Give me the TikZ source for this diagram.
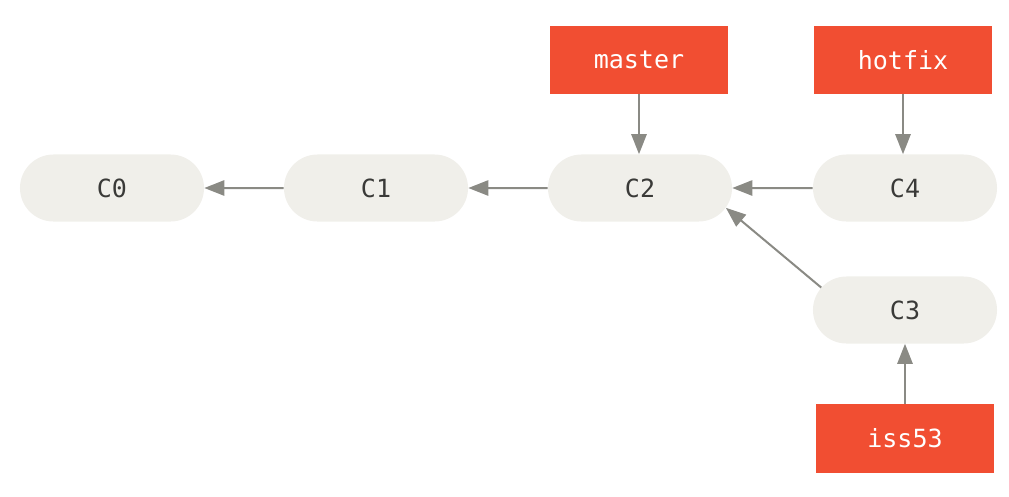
\documentclass[tikz,border=0pt]{standalone}
\usepackage{fontspec}
\setmonofont{DejaVu Sans Mono}
\usepackage{xcolor}
\usetikzlibrary{shapes.misc,arrows.meta,positioning}
\definecolor{gitorange}{RGB}{241,78,50}
\definecolor{commitgrey}{RGB}{240,239,234}
\definecolor{arrowgrey}{RGB}{138,138,132}
\definecolor{textdark}{RGB}{58,58,56}

\begin{document}
\begin{tikzpicture}[
    x=0.025cm, y=-0.025cm,
    commit/.style={rounded rectangle, fill=commitgrey, minimum width=4.6cm, minimum height=1.675cm,
        inner sep=0pt, text=textdark, font=\ttfamily\fontsize{17.8}{20}\selectfont},
    branch/.style={rectangle, fill=gitorange, minimum width=4.45cm, minimum height=1.7cm,
        inner sep=0pt, text=white, font=\ttfamily\fontsize{17.8}{20}\selectfont},
    parent/.style={-{Triangle[length=0.5cm, width=0.38cm]}, draw=arrowgrey, line width=0.05cm},
]
    \useasboundingbox (0,0) rectangle (1009,496);
    % commits
    \node[commit] (c0) at (112,188) {C0};
    \node[commit] (c1) at (376,188) {C1};
    \node[commit] (c2) at (640,188) {C2};
    \node[commit] (c4) at (905,188) {C4};
    \node[commit] (c3) at (905,310) {C3};
    % branches
    \node[branch] (master) at (639,60) {master};
    \node[branch] (hotfix) at (903,60) {hotfix};
    \node[branch] (iss53) at (905,438.5) {iss53};
    % history
    \draw[parent] (c1) -- (c0);
    \draw[parent] (c2) -- (c1);
    \draw[parent] (c4) -- (c2);
    \draw[parent] (c3.165) -- (c2.-13);
    \draw[parent] (master) -- (master |- c2.north);
    \draw[parent] (hotfix) -- (hotfix |- c4.north);
    \draw[parent] (iss53) -- (iss53 |- c3.south);
\end{tikzpicture}
\end{document}
